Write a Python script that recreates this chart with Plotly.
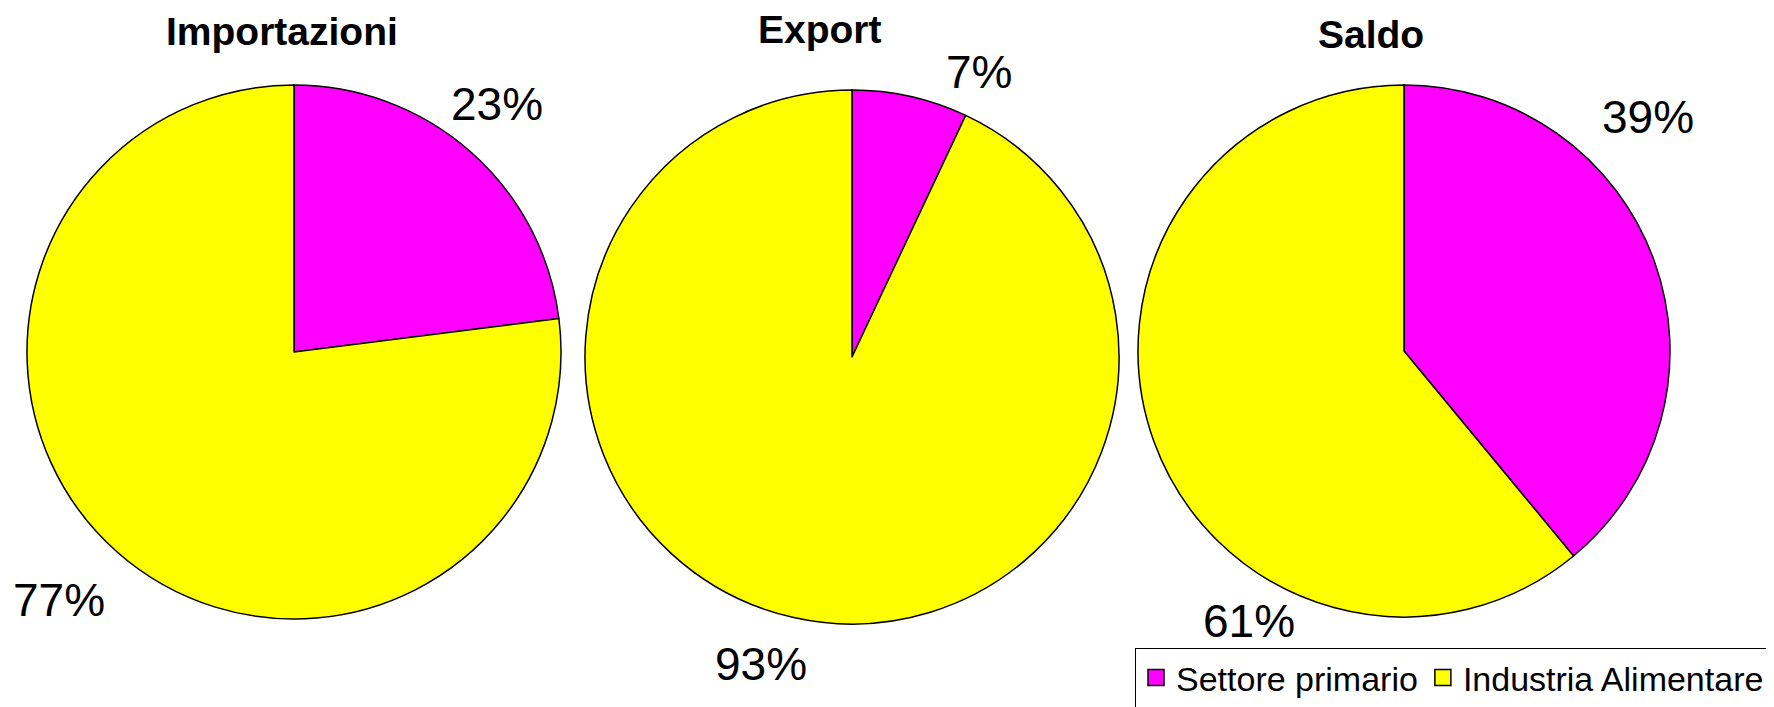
import math
import plotly.graph_objects as go

# data
categories = ['Settore primario', 'Industria Alimentare']
titles = ['Importazioni', 'Export', 'Saldo']
importazioni = [23, 77]
export = [7, 93]
saldo = [39, 61]
colors = ['#FF00FF', '#FFFF00']

W, H = 1774, 707
OFF = 8  # page body margin

# pie placement in pixels: centre x, centre y, radius
pies = [(294, 352, 267), (852, 357, 267), (1404, 351, 266)]
# percentage label placement: (angle clockwise from top, distance / radius)
label_place = [[(39.4, 1.20), (223.5, 1.28)],
               [(24.0, 1.17), (196.5, 1.20)],
               [(46.2, 1.27), (209.8, 1.17)]]
title_pos = [(282, 31), (820, 29), (1371, 34)]


def px(x):
    return (x - OFF) / W


def py(y):
    return 1 - (y - OFF) / H


fig = go.Figure()
series = [importazioni, export, saldo]
for i, vals in enumerate(series):
    cx, cy, r = pies[i]
    fig.add_trace(go.Pie(
        labels=categories, values=vals, sort=False, direction='clockwise', rotation=0,
        marker=dict(colors=colors, line=dict(color='black', width=1.5)),
        textinfo='none', hoverinfo='label+percent', showlegend=False,
        domain=dict(x=[px(cx - r), px(cx + r)], y=[py(cy + r), py(cy - r)])))
    total = sum(vals)
    for v, (ang, f) in zip(vals, label_place[i]):
        a = math.radians(ang)
        fig.add_annotation(
            x=px(cx + f * r * math.sin(a)), y=py(cy - f * r * math.cos(a)),
            xref='paper', yref='paper', showarrow=False,
            xanchor='center', yanchor='middle',
            text='{:.0f}%'.format(100 * v / total),
            font=dict(family='Liberation Sans, Arial', size=46, color='black'))
    tx, ty = title_pos[i]
    fig.add_annotation(
        x=px(tx), y=py(ty), xref='paper', yref='paper', showarrow=False,
        xanchor='center', yanchor='middle',
        text='<b>' + titles[i] + '</b>',
        font=dict(family='Liberation Sans, Arial', size=39, color='black'))

# legend entries with bigger square keys
for name, c in zip(categories, colors):
    fig.add_trace(go.Scatter(
        x=[None], y=[None], mode='markers', name=name, hoverinfo='skip',
        marker=dict(symbol='square', size=16, color=c, line=dict(color='black', width=1.5))))

fig.update_layout(
    width=W, height=H,
    margin=dict(l=0, r=0, t=0, b=0),
    paper_bgcolor='white', plot_bgcolor='white',
    xaxis=dict(visible=False), yaxis=dict(visible=False),
    legend=dict(orientation='h', x=px(1135), y=py(648), xanchor='left', yanchor='top',
                bordercolor='black', borderwidth=1, bgcolor='white',
                font=dict(family='Liberation Sans, Arial', size=34, color='black'),
                traceorder='normal'),
)

fig.write_html('out.html')
